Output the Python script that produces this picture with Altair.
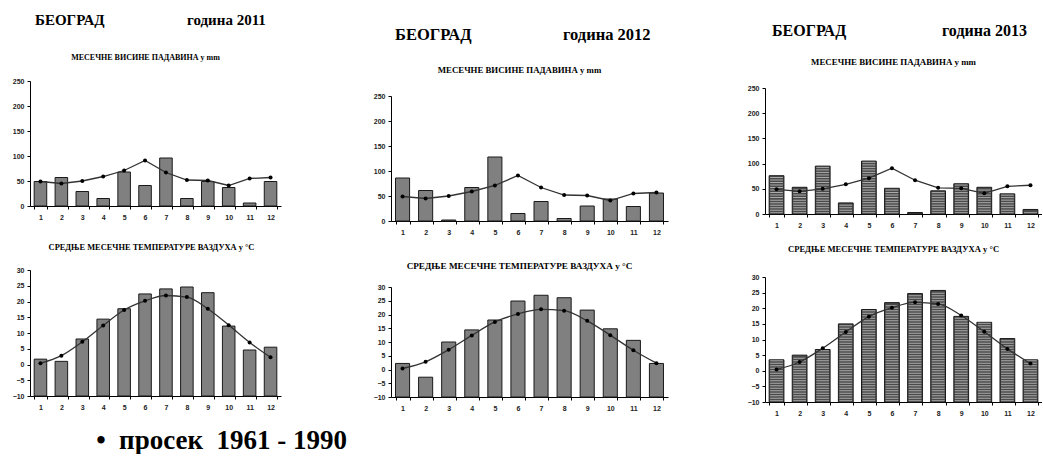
import altair as alt
import pandas as pd

# ---- data -------------------------------------------------------------
MONTHS = list(range(1, 13))

# long-term average 1961-1990
PRECIP_NORMAL = [49, 45, 50, 59, 71, 91, 67, 52, 51, 41, 55, 57]
TEMP_NORMAL = [0.4, 2.8, 7.2, 12.4, 17.3, 20.2, 21.9, 21.4, 17.7, 12.5, 7.0, 2.3]

PRECIP_2011 = [49, 57, 29, 15, 68, 41, 96, 15, 49, 37, 6, 49]
TEMP_2011 = [1.7, 1.0, 8.1, 14.4, 17.7, 22.4, 24.0, 24.6, 22.8, 12.2, 4.6, 5.5]

PRECIP_2012 = [86, 61, 2, 67, 128, 15, 39, 5, 30, 44, 29, 56]
TEMP_2012 = [2.2, -2.8, 10.0, 14.4, 18.0, 24.9, 27.0, 26.1, 21.6, 14.8, 10.6, 2.2]

PRECIP_2013 = [76, 53, 95, 22, 105, 51, 3, 46, 60, 53, 40, 9]
TEMP_2013 = [3.5, 5.0, 6.8, 15.0, 19.6, 21.8, 24.7, 25.7, 17.4, 15.5, 10.3, 3.5]

CITY = "БЕОГРАД"
YEARS = ["година 2011", "година 2012", "година 2013"]
PRECIP_TITLE = "МЕСЕЧНЕ ВИСИНЕ ПАДАВИНА у mm"
TEMP_TITLE = "СРЕДЊЕ МЕСЕЧНЕ ТЕМПЕРАТУРЕ ВАЗДУХА  у  °C"
NBSP = "\u00a0"
LEGEND = f"•{NBSP}{NBSP}просек{NBSP}{NBSP}1961{NBSP}-{NBSP}1990"

PRECIP_TICKS = [0, 50, 100, 150, 200, 250]
TEMP_TICKS = [-10, -5, 0, 5, 10, 15, 20, 25, 30]

SERIF = "Liberation Serif"
SANS = "Liberation Sans"


def stripe_rows(values, base, step):
    rows = []
    for m, v in zip(MONTHS, values):
        level = base + step / 2
        while level < v - step * 0.3:
            rows.append({"month": m, "level": level})
            level += step
    return pd.DataFrame(rows)


def panel(values, normal, kind, width, height, title, title_size, title_offset,
          pad_inner, striped=False, label_size=7, title_dx=-10):
    df = pd.DataFrame({"month": MONTHS, "value": values, "normal": normal})
    if kind == "precip":
        domain, ticks, base, interp, step = [0, 250], PRECIP_TICKS, 0, "linear", 5
    else:
        domain, ticks, base, interp, step = [-10, 30], TEMP_TICKS, -10, "monotone", 0.8

    xscale = alt.Scale(paddingInner=pad_inner, paddingOuter=pad_inner / 2)
    x_axis = alt.Axis(title=None, labelAngle=0, tickBand="extent", tickSize=3,
                      labelPadding=4, labelFontSize=label_size, labelFont=SANS,
                      labelFontWeight="bold", labelColor="#222", domainColor="#000",
                      tickColor="#000", grid=False, labelOverlap=False)
    y_axis = alt.Axis(title=None, values=ticks, tickSize=3, labelPadding=3,
                      labelFontSize=label_size, labelFont=SANS, labelFontWeight="bold",
                      labelColor="#222", domainColor="#000", tickColor="#000", grid=False,
                      labelOverlap=False)
    yscale = alt.Scale(domain=domain, nice=False, zero=False)

    def X():
        return alt.X("month:O", scale=xscale, axis=x_axis)

    def Y(field):
        return alt.Y(field, scale=yscale, axis=y_axis)

    base_chart = alt.Chart(df)

    bars = base_chart.mark_bar(
        fill="#4a4a4a" if striped else "#808080", stroke="#1a1a1a", strokeWidth=1
    ).encode(x=X(), y=Y("value:Q"), y2=alt.datum(base))

    layers = [bars]
    if striped:
        bw = width / len(MONTHS) * (1 - pad_inner)
        stripes = alt.Chart(stripe_rows(values, base, step)).mark_tick(
            color="#d6d6d6", thickness=1, size=bw - 2
        ).encode(x=X(), y=Y("level:Q"))
        layers.append(stripes)

    line = base_chart.mark_line(color="#333", strokeWidth=1.3, interpolate=interp).encode(
        x=X(), y=Y("normal:Q"))
    pts = base_chart.mark_circle(color="#000", size=16, opacity=1).encode(
        x=X(), y=Y("normal:Q"))
    layers += [line, pts]

    return alt.layer(*layers).properties(
        width=width, height=height,
        title=alt.TitleParams(title, font=SERIF, fontWeight="bold", fontSize=title_size,
                              offset=title_offset, dx=title_dx, anchor="middle", color="#000"),
    )


def header(width, height, year, size, y, x_city, x_year):
    def txt(s, xpos):
        return alt.Chart(pd.DataFrame({"t": [s]})).mark_text(
            align="left", baseline="middle", font=SERIF, fontWeight="bold",
            fontSize=size, color="#000"
        ).encode(text="t:N", x=alt.value(xpos), y=alt.value(y))
    return alt.layer(txt(CITY, x_city), txt(year, x_year)).properties(width=width, height=height)


W1, W2, W3 = 251, 277, 277

col1 = alt.vconcat(
    header(W1, 12, YEARS[0], 15, 15, 5, 157),
    panel(PRECIP_2011, PRECIP_NORMAL, "precip", W1, 125, PRECIP_TITLE, 8, 15, 0.4),
    panel(TEMP_2011, TEMP_NORMAL, "temp", W1, 126, TEMP_TITLE, 8.4, 15, 0.4, title_dx=-4),
    spacing=64, bounds="flush",
)
col2 = alt.vconcat(
    header(W2, 25, YEARS[1], 16.5, 30, 4, 172),
    panel(PRECIP_2012, PRECIP_NORMAL, "precip", W2, 125, PRECIP_TITLE, 8.8, 17, 0.39),
    panel(TEMP_2012, TEMP_NORMAL, "temp", W2, 110, TEMP_TITLE, 9.2, 12, 0.39),
    spacing=66, bounds="flush",
)
col3 = alt.vconcat(
    header(W3, 20, YEARS[2], 16, 26, 7, 177),
    panel(PRECIP_2013, PRECIP_NORMAL, "precip", W3, 126, PRECIP_TITLE, 8.9, 17, 0.36, striped=True),
    panel(TEMP_2013, TEMP_NORMAL, "temp", W3, 125, TEMP_TITLE, 8.6, 19, 0.36, striped=True),
    spacing=63, bounds="flush",
)

chart = alt.hconcat(
    col1,
    alt.hconcat(col2, col3, spacing=79),
    spacing=92,
).properties(
    title=alt.TitleParams(LEGEND, orient="bottom", anchor="start", font=SERIF,
                          fontWeight="bold", fontSize=27, color="#000", dx=84, offset=12),
    padding={"left": 12, "top": 5, "right": 0, "bottom": 0},
    background="white",
).configure_view(stroke=None)

chart.save("out.html", embed_options={"renderer": "svg", "actions": False})
